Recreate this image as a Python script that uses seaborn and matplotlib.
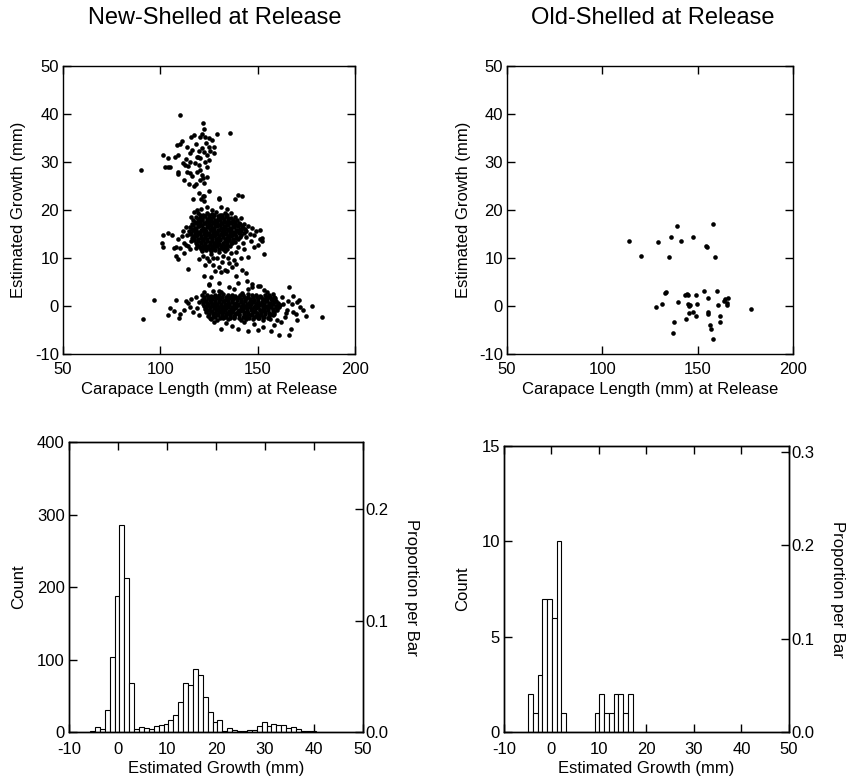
import numpy as np
import pandas as pd
import matplotlib
matplotlib.use("Agg")
import matplotlib.pyplot as plt
import seaborn as sns

sns.set_style("ticks")
plt.rcParams["font.family"] = ["Liberation Sans", "DejaVu Sans"]
plt.rcParams["axes.unicode_minus"] = False
plt.rcParams["text.color"] = "black"
plt.rcParams["axes.labelcolor"] = "black"

# ---- New-shelled crabs: (carapace length, estimated growth) ----
new_upper = [
    (109.9, 39.8), (121.7, 38.1), (122.6, 36.9), (121.2, 35.9), (120.2, 35.2), (123.0, 35.3),
    (124.8, 35.1), (129.3, 35.9), (135.8, 36.0), (117.1, 35.7), (115.7, 35.3), (111.0, 34.3),
    (110.2, 33.7), (113.6, 33.2), (123.6, 34.0), (124.8, 33.2), (127.4, 33.2), (125.7, 32.2),
    (121.4, 32.9), (122.3, 32.0), (124.0, 31.5), (127.4, 31.9), (116.2, 32.5), (115.4, 31.8),
    (118.8, 31.1), (120.5, 30.8), (109.0, 31.4), (107.5, 31.1), (101.6, 31.5), (104.2, 30.8),
    (111.6, 29.8), (112.8, 29.4), (114.2, 29.1), (115.4, 30.1), (117.9, 29.8), (119.7, 29.4),
    (123.1, 30.1), (120.5, 28.4), (102.6, 28.9), (104.2, 28.9), (105.0, 28.9), (90.1, 28.3),
    (109.3, 28.0), (109.0, 27.6), (113.6, 28.0), (115.4, 27.7), (116.2, 27.0), (121.4, 27.3),
    (121.9, 26.7), (120.5, 26.3), (122.6, 25.6), (117.1, 24.9), (124.8, 23.9), (122.3, 22.9),
    (121.0, 22.2), (116.8, 22.2), (122.6, 21.9), (130.3, 22.3), (138.6, 22.2), (139.8, 23.1),
    (142.0, 22.9), (118.5, 33.8), (119.8, 32.2), (126.3, 34.6), (113.0, 30.6), (108.4, 33.5),
    (125.2, 30.4), (119.0, 27.9), (123.8, 28.9), (112.2, 26.2), (118.3, 25.4), (124.1, 26.8),
    (114.5, 25.5), (120.0, 23.6), (119.2, 31.0),
]

new_mid_core = [
    (119.5, 19.3), (121.8, 19.0), (124.0, 19.4), (126.3, 19.1), (128.5, 19.5), (130.8, 19.0), (133.0, 19.3),
    (118.2, 18.6), (120.4, 18.3), (122.7, 18.7), (124.9, 18.4), (127.2, 18.6), (129.4, 18.2), (131.7, 18.5),
    (133.9, 18.8), (136.2, 18.3),
    (117.0, 17.9), (119.3, 17.6), (121.5, 18.0), (123.8, 17.7), (126.0, 17.8), (128.3, 17.5), (130.5, 17.9),
    (132.8, 17.6), (135.0, 17.8), (137.3, 17.5), (139.6, 17.9),
    (116.1, 17.0), (118.4, 17.3), (120.6, 16.9), (122.9, 17.2), (125.1, 17.0), (127.4, 17.3), (129.6, 16.9),
    (131.9, 17.2), (134.1, 17.0), (136.4, 17.2), (138.6, 16.9), (140.9, 17.1),
    (115.4, 16.5), (117.6, 16.2), (119.9, 16.6), (122.1, 16.3), (124.4, 16.4), (126.6, 16.2), (128.9, 16.6),
    (131.1, 16.3), (133.4, 16.5), (135.6, 16.2), (137.9, 16.4), (140.1, 16.6), (142.4, 16.3),
    (114.7, 15.6), (116.9, 15.9), (119.2, 15.5), (121.4, 15.8), (123.7, 15.6), (125.9, 15.9), (128.2, 15.5),
    (130.4, 15.8), (132.7, 15.6), (134.9, 15.9), (137.2, 15.5), (139.4, 15.8), (141.7, 15.6),
    (115.5, 15.1), (117.8, 14.8), (120.0, 15.2), (122.3, 14.9), (124.5, 15.0), (126.8, 14.8), (129.0, 15.2),
    (131.3, 14.9), (133.5, 15.1), (135.8, 14.8), (138.0, 15.0), (140.3, 15.2),
    (116.3, 14.2), (118.5, 14.5), (120.8, 14.1), (123.0, 14.4), (125.3, 14.3), (127.5, 14.5), (129.8, 14.1),
    (132.0, 14.4), (134.3, 14.2), (136.5, 14.5), (138.8, 14.1), (141.0, 14.4),
    (117.4, 13.7), (119.6, 13.5), (121.9, 13.8), (124.1, 13.5), (126.4, 13.6), (128.6, 13.4), (130.9, 13.7),
    (133.1, 13.5), (135.4, 13.8), (137.6, 13.5),
    (118.7, 12.8), (121.0, 13.1), (123.2, 12.8), (125.5, 13.0), (127.7, 12.7), (130.0, 13.0), (132.2, 12.9),
    (134.5, 12.7), (136.7, 13.1),
    (120.2, 12.3), (122.5, 12.0), (124.7, 12.3), (127.0, 12.1), (129.2, 12.4), (131.5, 12.0), (133.7, 12.2),
    (121.3, 11.4), (123.6, 11.7), (125.8, 11.4), (128.1, 11.6), (130.3, 11.3), (133.0, 11.5),
]

new_mid_core_b = [
    (120.6, 18.9), (122.9, 18.8), (125.1, 19.0), (127.4, 18.9), (129.6, 18.8), (131.9, 19.0), (134.5, 18.9),
    (119.3, 18.1), (121.5, 18.2), (123.8, 18.1), (126.0, 18.3), (128.3, 18.0), (130.5, 18.2), (132.8, 18.1),
    (135.0, 18.3), (137.5, 18.0),
    (117.9, 17.4), (120.2, 17.5), (122.4, 17.3), (124.7, 17.5), (126.9, 17.4), (129.2, 17.5), (131.4, 17.3),
    (133.7, 17.5), (135.9, 17.4), (138.2, 17.5), (140.2, 17.3),
    (117.0, 16.8), (119.3, 16.7), (121.5, 16.8), (123.8, 16.6), (126.0, 16.8), (128.3, 16.7), (130.5, 16.8),
    (132.8, 16.6), (135.0, 16.8), (137.3, 16.7), (139.5, 16.8), (141.8, 16.7),
    (116.3, 16.0), (118.5, 16.1), (120.8, 15.9), (123.0, 16.1), (125.3, 16.0), (127.5, 16.1), (129.8, 15.9),
    (132.0, 16.1), (134.3, 16.0), (136.5, 16.1), (138.8, 15.9), (141.0, 16.1), (143.3, 16.0),
    (115.8, 15.3), (118.0, 15.4), (120.3, 15.3), (122.5, 15.4), (124.8, 15.3), (127.0, 15.4), (129.3, 15.3),
    (131.5, 15.4), (133.8, 15.3), (136.0, 15.4), (138.3, 15.3), (140.5, 15.4), (142.8, 15.3),
    (116.6, 14.6), (118.9, 14.7), (121.1, 14.6), (123.4, 14.7), (125.6, 14.6), (127.9, 14.7), (130.1, 14.6),
    (132.4, 14.7), (134.6, 14.6), (136.9, 14.7), (139.1, 14.6), (141.4, 14.7),
    (117.4, 13.9), (119.6, 14.0), (121.9, 13.9), (124.1, 14.0), (126.4, 13.9), (128.6, 14.0), (130.9, 13.9),
    (133.1, 14.0), (135.4, 13.9), (137.6, 14.0), (139.9, 13.9),
    (118.5, 13.2), (120.8, 13.3), (123.0, 13.2), (125.3, 13.3), (127.5, 13.2), (129.8, 13.3), (132.0, 13.2),
    (134.3, 13.3), (136.5, 13.2), (138.6, 13.3),
    (119.8, 12.5), (122.1, 12.6), (124.3, 12.5), (126.6, 12.6), (128.8, 12.5), (131.1, 12.6), (133.3, 12.5),
    (135.6, 12.6),
    (121.0, 11.8), (123.3, 11.9), (125.5, 11.8), (127.8, 11.9), (130.0, 11.8), (132.3, 11.9), (134.4, 11.8),
]

new_mid_edge = [
    (121.0, 20.2), (124.2, 20.6), (131.0, 20.7), (134.2, 20.3), (126.5, 20.0), (122.0, 22.9), (130.2, 22.6),
    (119.0, 20.1), (136.5, 19.4), (138.2, 18.6), (141.2, 18.3), (143.0, 17.1), (145.2, 16.6), (147.1, 16.2),
    (149.2, 15.6), (151.3, 15.9), (152.4, 14.2), (152.1, 13.6), (151.0, 13.9), (148.1, 14.8), (146.0, 15.0),
    (144.0, 14.4), (142.3, 13.1), (140.0, 12.3), (143.2, 11.9), (150.1, 12.8), (153.2, 10.8), (145.0, 10.3),
    (148.0, 12.2), (146.5, 13.6), (143.8, 15.6),
    (101.2, 14.8), (101.0, 13.2), (101.3, 12.3), (104.2, 15.2), (106.0, 14.7), (108.1, 12.3), (107.0, 12.0),
    (109.2, 13.9), (110.1, 12.0), (111.2, 14.5), (112.0, 13.2), (113.2, 12.7), (114.0, 12.4), (115.1, 11.8),
    (116.0, 13.5), (113.8, 14.8), (114.2, 7.8), (109.1, 9.8), (108.2, 10.5), (112.0, 11.0), (118.2, 12.0),
    (111.5, 15.6), (113.0, 16.4), (116.0, 18.5), (117.5, 19.5),
    (122.1, 10.5), (125.0, 9.4), (127.2, 8.6), (128.2, 7.3), (130.1, 8.2), (131.2, 7.1), (133.0, 7.6),
    (134.2, 7.3), (135.1, 9.0), (137.0, 8.2), (139.1, 8.8), (141.2, 10.0), (123.0, 8.5), (126.1, 10.8),
    (129.0, 9.9), (132.0, 10.5), (136.2, 11.0), (138.0, 9.5), (142.0, 7.6), (144.1, 6.9), (122.2, 6.2),
    (126.0, 6.0), (130.0, 4.8), (135.2, 4.0), (139.0, 6.3), (147.0, 4.5), (151.0, 4.2), (140.1, 4.8),
    (125.0, 4.3), (130.2, 3.2), (145.0, 3.5), (153.2, 3.4), (139.0, 11.2), (135.0, 10.1), (127.0, 10.0),
    (131.5, 9.2), (120.0, 9.8), (124.0, 10.1),
]

new_low_core = [
    (121.5, 2.2), (123.8, 2.3), (125.9, 2.1), (128.1, 2.3), (130.4, 2.2), (132.2, 2.4), (134.6, 2.2),
    (136.7, 2.3), (138.5, 2.1), (140.9, 2.3), (142.6, 2.2), (144.8, 2.4), (147.1, 2.2), (149.3, 2.3),
    (151.2, 2.1), (153.6, 2.2), (156.0, 2.3),
    (122.3, 1.5), (124.5, 1.7), (126.6, 1.4), (128.8, 1.6), (130.9, 1.5), (133.1, 1.3), (135.2, 1.6),
    (137.4, 1.5), (139.6, 1.7), (141.7, 1.4), (143.9, 1.6), (146.0, 1.5), (148.2, 1.3), (150.4, 1.6),
    (152.5, 1.5), (154.7, 1.7), (156.9, 1.4), (159.1, 1.6),
    (121.8, 0.8), (123.9, 0.6), (126.1, 0.9), (128.2, 0.7), (130.3, 0.8), (132.6, 1.0), (134.8, 0.7),
    (136.9, 0.9), (139.1, 0.6), (141.2, 0.8), (143.4, 1.0), (145.6, 0.7), (147.7, 0.9), (149.9, 0.6),
    (152.1, 0.8), (154.2, 1.0), (156.4, 0.7), (158.6, 0.9), (160.5, 0.6),
    (122.6, 0.1), (124.7, 0.3), (126.9, 0.0), (129.0, 0.2), (131.2, -0.1), (133.4, 0.1), (135.5, 0.3),
    (137.7, 0.0), (139.8, 0.2), (142.0, 0.1), (144.2, -0.1), (146.3, 0.2), (148.5, 0.0), (150.7, 0.3),
    (152.8, 0.1), (155.0, -0.1), (157.1, 0.2), (159.3, 0.0), (161.4, 0.2),
    (123.1, -0.6), (125.2, -0.8), (127.4, -0.5), (129.6, -0.7), (131.7, -0.6), (133.9, -0.4), (136.1, -0.7),
    (138.2, -0.5), (140.4, -0.8), (142.5, -0.6), (144.7, -0.4), (146.9, -0.7), (149.0, -0.5), (151.2, -0.8),
    (153.4, -0.6), (155.5, -0.4), (157.7, -0.7), (159.8, -0.5),
    (123.6, -1.3), (125.8, -1.1), (128.0, -1.4), (130.1, -1.2), (132.3, -1.3), (134.4, -1.5), (136.6, -1.2),
    (138.8, -1.4), (140.9, -1.1), (143.1, -1.3), (145.2, -1.5), (147.4, -1.2), (149.6, -1.4), (151.7, -1.1),
    (153.9, -1.3), (156.0, -1.5), (158.2, -1.2),
    (124.5, -2.0), (127.1, -2.2), (129.4, -1.9), (131.6, -2.1), (133.8, -2.0), (136.0, -1.8), (138.1, -2.1),
    (140.3, -1.9), (142.5, -2.2), (144.6, -2.0), (146.8, -1.8), (149.0, -2.1), (151.1, -1.9), (153.3, -2.2),
    (155.6, -2.0), (157.8, -1.8),
    (126.0, -2.7), (129.0, -2.9), (132.3, -2.6), (135.0, -2.8), (138.0, -2.6), (141.2, -2.9), (144.0, -2.7),
    (147.5, -2.8), (150.1, -2.6), (153.0, -2.9), (156.5, -2.7),
]

new_low_core_b = [
    (122.6, 1.9), (124.9, 1.8), (127.1, 1.9), (129.4, 1.8), (131.6, 1.9), (133.9, 1.8), (136.1, 1.9),
    (138.4, 1.8), (140.6, 1.9), (142.9, 1.8), (145.1, 1.9), (147.4, 1.8), (149.6, 1.9), (151.9, 1.8),
    (154.1, 1.9), (156.4, 1.8), (158.4, 1.9),
    (121.2, 1.2), (123.4, 1.1), (125.7, 1.2), (127.9, 1.1), (130.2, 1.2), (132.4, 1.1), (134.7, 1.2),
    (136.9, 1.1), (139.2, 1.2), (141.4, 1.1), (143.7, 1.2), (145.9, 1.1), (148.2, 1.2), (150.4, 1.1),
    (152.7, 1.2), (154.9, 1.1), (157.2, 1.2), (159.6, 1.1),
    (122.0, 0.4), (124.3, 0.5), (126.5, 0.4), (128.8, 0.5), (131.0, 0.4), (133.3, 0.5), (135.5, 0.4),
    (137.8, 0.5), (140.0, 0.4), (142.3, 0.5), (144.5, 0.4), (146.8, 0.5), (149.0, 0.4), (151.3, 0.5),
    (153.5, 0.4), (155.8, 0.5), (158.0, 0.4), (160.3, 0.5),
    (123.4, -0.2), (125.6, -0.3), (127.9, -0.2), (130.1, -0.3), (132.4, -0.2), (134.6, -0.3), (136.9, -0.2),
    (139.1, -0.3), (141.4, -0.2), (143.6, -0.3), (145.9, -0.2), (148.1, -0.3), (150.4, -0.2), (152.6, -0.3),
    (154.9, -0.2), (157.1, -0.3), (159.4, -0.2), (161.2, -0.3),
    (124.0, -0.9), (126.3, -1.0), (128.5, -0.9), (130.8, -1.0), (133.0, -0.9), (135.3, -1.0), (137.5, -0.9),
    (139.8, -1.0), (142.0, -0.9), (144.3, -1.0), (146.5, -0.9), (148.8, -1.0), (151.0, -0.9), (153.3, -1.0),
    (155.5, -0.9), (157.8, -1.0), (160.0, -0.9),
    (124.8, -1.6), (127.0, -1.7), (129.3, -1.6), (131.5, -1.7), (133.8, -1.6), (136.0, -1.7), (138.3, -1.6),
    (140.5, -1.7), (142.8, -1.6), (145.0, -1.7), (147.3, -1.6), (149.5, -1.7), (151.8, -1.6), (154.0, -1.7),
    (156.3, -1.6), (158.5, -1.7),
    (125.5, -2.4), (128.0, -2.3), (130.5, -2.4), (133.0, -2.3), (135.6, -2.4), (138.0, -2.3), (140.6, -2.4),
    (143.0, -2.3), (145.6, -2.4), (148.0, -2.3), (150.6, -2.4), (153.0, -2.3), (155.5, -2.4),
]

new_low_edge = [
    (163.0, 0.5), (165.0, -0.8), (168.0, -1.2), (170.0, 0.8), (172.0, -0.3), (175.0, -2.0), (178.0, 0.1),
    (183.0, -2.2), (166.0, 4.0), (168.0, 2.0), (170.0, -3.0), (164.0, -2.3), (166.0, -6.0), (167.0, -4.7),
    (161.0, -6.1), (162.5, 1.8), (164.5, -1.5), (167.5, 0.4), (169.5, -1.6), (171.0, 1.3), (173.5, -0.9),
    (162.0, -3.4), (165.5, 1.1),
    (91.0, -2.8), (97.0, 1.3), (104.0, -1.8), (105.0, -0.4), (107.0, -1.0), (108.0, 1.2), (110.0, -1.6),
    (112.0, -0.8), (113.0, 1.0), (114.0, 0.6), (115.0, -0.3), (117.0, -1.3), (116.0, 1.5), (119.0, -0.5),
    (120.0, 0.8), (118.5, 1.9), (119.8, -1.9), (109.5, -2.4),
    (131.0, -4.8), (137.0, -4.2), (140.0, -4.7), (145.0, -5.2), (150.0, -5.0), (153.0, -4.4), (157.0, -5.3),
    (160.0, -3.0), (143.0, -3.3), (148.0, -3.7), (134.0, -3.5), (127.5, -3.3), (158.5, -3.9),
    (125.0, 4.5), (127.0, 3.2), (142.0, 2.8), (147.0, 3.9), (150.0, 4.2), (155.0, 3.0), (158.0, 2.4),
    (138.0, 3.5), (131.0, 3.0), (122.5, 3.0), (144.5, 5.3),
]

# ---- Old-shelled crabs: (carapace length, estimated growth) ----
old_points = [
    (114.0, 13.6), (120.1, 10.4), (129.2, 13.3), (135.8, 14.3), (139.0, 16.6), (135.1, 10.3),
    (141.4, 13.6), (147.3, 14.3), (154.3, 12.5), (155.0, 12.2), (158.0, 17.0), (159.0, 10.3),
    (128.0, -0.2), (131.1, 0.4), (132.9, 2.8), (133.6, 2.9), (137.4, -3.3), (137.0, -5.6),
    (139.5, 0.9), (143.3, 2.2), (144.4, 2.4), (144.7, 2.2), (144.7, 0.4), (145.4, 0.0),
    (145.9, 0.3), (145.6, -1.5), (147.7, -1.2), (143.7, -2.8), (148.9, 2.2), (149.8, 0.4),
    (148.9, -2.1), (153.3, 3.1), (155.5, 1.7), (155.5, -1.3), (155.5, -1.7), (156.6, -4.0),
    (157.0, -4.7), (158.1, -6.8), (160.1, 3.2), (160.4, 0.3), (161.5, -2.0), (161.8, -3.4),
    (163.6, 1.0), (164.4, 1.4), (165.1, 0.2), (165.1, 0.7), (165.8, 1.7), (177.9, -0.7),
]

# ---- Histogram bar counts (1 mm bars) ----
new_bin_start = -5.7
new_counts = [2, 7, 4, 30, 103, 188, 285, 212, 67, 4, 7, 5, 4, 9, 10, 11, 17, 24, 41, 68,
              65, 87, 79, 49, 28, 14, 16, 2, 5, 3, 2, 2, 3, 3, 8, 14, 8, 11, 10, 10,
              5, 7, 4, 2, 1, 1]
old_bin_start = -4.9
old_counts = [2, 1, 3, 7, 7, 6, 10, 1, 0, 0, 0, 0, 0, 0, 1, 2, 1, 1, 2, 2, 1, 2]

fig = plt.figure(figsize=(8.5, 7.82), dpi=100)

ax_tl = fig.add_axes([0.0741, 0.5473, 0.3435, 0.3683])
ax_tr = fig.add_axes([0.5965, 0.5473, 0.3365, 0.3683])
ax_bl = fig.add_axes([0.0812, 0.0639, 0.3459, 0.3708])
ax_br = fig.add_axes([0.5929, 0.0639, 0.3353, 0.3657])

FS = 12
TICK_LEN = 5.5


def style_box(ax):
    for sp in ax.spines.values():
        sp.set_visible(True)
        sp.set_color("black")
        sp.set_linewidth(1.0)


def draw_scatter(ax, pts):
    df = pd.DataFrame(pts, columns=["length", "growth"])
    sns.scatterplot(data=df, x="length", y="growth", ax=ax, s=11, color="black",
                    linewidth=0, marker="o", legend=False)
    ax.set_xlim(50, 200)
    ax.set_ylim(-10, 50)
    ax.set_xticks([50, 100, 150, 200])
    ax.set_yticks([-10, 0, 10, 20, 30, 40, 50])
    ax.tick_params(direction="in", length=TICK_LEN, width=1, top=True, right=True,
                   labelsize=FS, colors="black", pad=3)
    ax.tick_params(axis="x", pad=6)
    ax.set_xlabel("Carapace Length (mm) at Release", fontsize=FS, labelpad=3)
    ax.set_ylabel("Estimated Growth (mm)", fontsize=FS, labelpad=6)
    style_box(ax)


def draw_hist(ax, start, counts, ymax, yticks, pticks):
    counts = [float(c) for c in counts]
    edges = [start + i for i in range(len(counts) + 1)]
    df = pd.DataFrame({"growth": [e + 0.5 for e in edges[:-1]], "n": counts})
    sns.histplot(data=df, x="growth", weights="n", bins=edges, ax=ax, stat="count",
                 color="white", edgecolor="black", linewidth=0.8, alpha=1.0)
    ax.set_xlim(-10, 50)
    ax.set_ylim(0, ymax)
    ax.set_xticks([-10, 0, 10, 20, 30, 40, 50])
    ax.set_yticks(yticks)
    ax.tick_params(axis="x", direction="in", length=TICK_LEN, width=1, top=True,
                   labelsize=FS, colors="black", pad=7)
    ax.tick_params(axis="y", direction="in", length=TICK_LEN, width=1,
                   labelsize=FS, colors="black", pad=3)
    ax.set_xlabel("Estimated Growth (mm)", fontsize=FS, labelpad=3)
    ax.set_ylabel("Count", fontsize=FS, labelpad=8)
    style_box(ax)
    total = sum(counts)
    ax2 = ax.twinx()
    ax2.set_ylim(0, ymax / total)
    ax2.set_yticks(pticks)
    ax2.set_yticklabels([f"{t:.1f}" for t in pticks])
    ax2.tick_params(axis="y", direction="in", length=TICK_LEN, width=1,
                    labelsize=FS, colors="black", pad=2)
    ax2.set_ylabel("Proportion per Bar", fontsize=FS, rotation=270, labelpad=22)
    style_box(ax2)


draw_scatter(ax_tl, new_upper + new_mid_core + new_mid_core_b + new_mid_edge
             + new_low_core + new_low_core_b + new_low_edge)
draw_scatter(ax_tr, old_points)
draw_hist(ax_bl, new_bin_start, new_counts, 400, [0, 100, 200, 300, 400], [0.0, 0.1, 0.2])
draw_hist(ax_br, old_bin_start, old_counts, 15, [0, 5, 10, 15], [0.0, 0.1, 0.2, 0.3])

fig.text(0.253, 0.977, "New-Shelled at Release", ha="center", va="center", fontsize=17)
fig.text(0.768, 0.977, "Old-Shelled at Release", ha="center", va="center", fontsize=17)

fig.savefig("out.png", dpi=100, facecolor="white")
